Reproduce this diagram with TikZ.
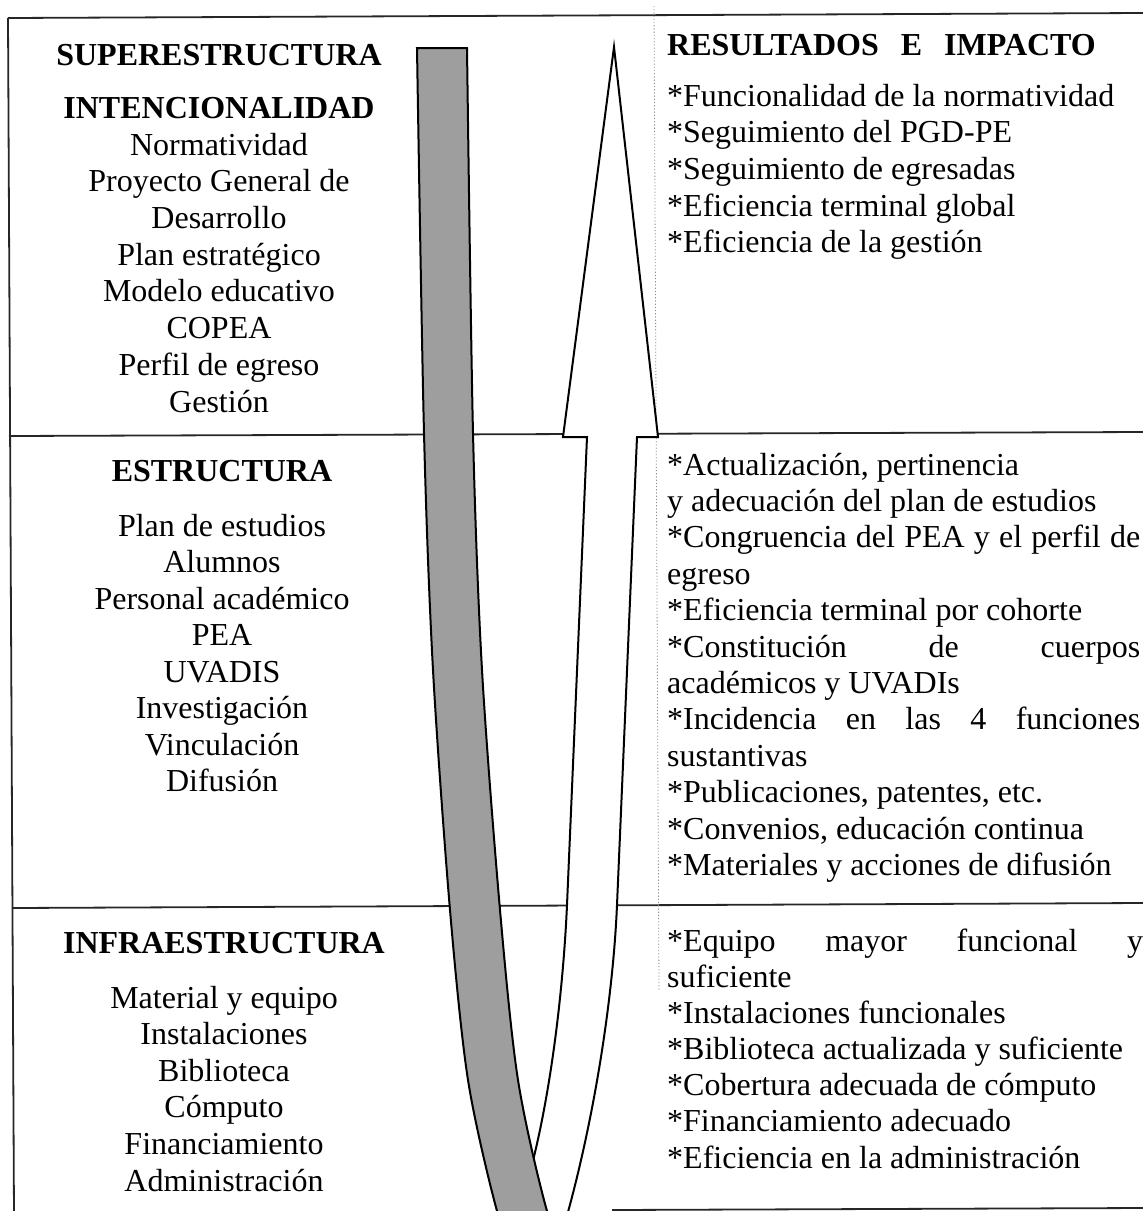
\documentclass[tikz,border=0pt]{standalone}
\usepackage{fontspec}
\setmainfont{Liberation Serif}
\newcommand\bodyfnt{\fontsize{32}{36.6}\selectfont}
\begin{document}
\begin{tikzpicture}[x=1pt,y=-1pt,
  frame/.style={line width=1.8pt, draw=black!85},
  dotline/.style={line width=0.8pt, draw=black!45, dash pattern=on 1.2pt off 2pt},
  outline/.style={line width=2pt, draw=black, fill=white},
  band/.style={line width=2pt, draw=black, fill=black!38},
  ctext/.style={anchor=base, inner sep=0pt, font=\bodyfnt},
  chead/.style={anchor=base, inner sep=0pt, font=\bodyfnt\bfseries},
  ltext/.style={anchor=base west, inner sep=0pt, font=\bodyfnt}]
\useasboundingbox (0,0) rectangle (1143,1211);
\begin{scope}
\clip (0,0) rectangle (1143,1211);
% frame and dividers
\draw[frame] (8,18) -- (1143,13);
\draw[frame] (8,18) -- (14,1215);
\draw[frame] (9,436) -- (1143,432);
\draw[frame] (12,908) -- (1143,903);
\draw[frame] (612,1210) -- (1143,1208);
\draw[dotline] (654,6) -- (659,990);
% white arm with arrow head
\draw[outline] (563,437) -- (614,47) -- (658,437) -- (637,437) -- (617,905)
  .. controls (613,1000) and (593,1130) .. (560,1240)
  .. controls (545,1290) and (520,1290) .. (515,1240)
  -- (525,1190) .. controls (549,1110) and (563,995) .. (567,905)
  -- (587,437) -- cycle;
% grey arm
\draw[band] plot[smooth] coordinates {(417,48) (424,433) (433,670) (450,910) (468,1080) (497,1211) (520,1270)}
  -- plot[smooth] coordinates {(572,1270) (547,1211) (518,1080) (500,910) (482,670) (473,433) (467,48)} -- cycle;
\end{scope}
% left column
\node[chead] (super) at (219,65) {SUPERESTRUCTURA};
\node[chead] (inten) at (219,118) {INTENCIONALIDAD};
\foreach \t/\y [count=\i] in {Normatividad/155, Proyecto General de/191.7, Desarrollo/228.4,
  Plan estratégico/265.1, Modelo educativo/301.8, COPEA/338.5, Perfil de egreso/375.2, Gestión/412}
  \node[ctext] (a\i) at (219,\y) {\t};
\node[chead] (estr) at (222,481) {ESTRUCTURA};
\foreach \t/\y [count=\i] in {Plan de estudios/536, Alumnos/572.5, Personal académico/609, PEA/645.5,
  UVADIS/682, Investigación/718.5, Vinculación/755, Difusión/791.5}
  \node[ctext] (b\i) at (222,\y) {\t};
\node[chead] (infra) at (224,953) {INFRAESTRUCTURA};
\foreach \t/\y [count=\i] in {Material y equipo/1008, Instalaciones/1044.6, Biblioteca/1081.2,
  Cómputo/1117.8, Financiamiento/1154.4, Administración/1191}
  \node[ctext] (c\i) at (224,\y) {\t};
% right column
\node[ltext, font=\bodyfnt\bfseries] (res) at (667,55) {RESULTADOS\hspace{22pt}E\hspace{22pt}IMPACTO};
\foreach \t/\y [count=\i] in {*Funcionalidad de la normatividad/106, *Seguimiento del PGD-PE/142.7,
  *Seguimiento de egresadas/179.4, *Eficiencia terminal global/216, *Eficiencia de la gestión/252.8}
  \node[ltext] (r\i) at (667,\y) {\t};
\node[ltext] (m1) at (667,475) {*Actualización, pertinencia};
\node[ltext] (m2) at (667,511.4) {y adecuación del plan de estudios};
\node[ltext] (m3) at (667,547.8) {\makebox[473pt][s]{*Congruencia del PEA y el perfil de}};
\node[ltext] (m4) at (667,584.2) {egreso};
\node[ltext] (m5) at (667,620.6) {*Eficiencia terminal por cohorte};
\node[ltext] (m6) at (667,657) {\makebox[473pt][s]{*Constitución\hfill de\hfill cuerpos}};
\node[ltext] (m7) at (667,693.4) {académicos y UVADIs};
\node[ltext] (m8) at (667,729.8) {\makebox[473pt][s]{*Incidencia\hfill en\hfill las\hfill 4\hfill funciones}};
\node[ltext] (m9) at (667,766.2) {sustantivas};
\node[ltext] (m10) at (667,802.6) {*Publicaciones, patentes, etc.};
\node[ltext] (m11) at (667,839) {*Convenios, educación continua};
\node[ltext] (m12) at (667,875.4) {*Materiales y acciones de difusión};
\node[ltext] (n1) at (667,951) {\makebox[476pt][s]{*Equipo\hfill mayor\hfill funcional\hfill y}};
\foreach \t/\y [count=\i from 2] in {suficiente/987.5, *Instalaciones funcionales/1023.5,
  *Biblioteca actualizada y suficiente/1059.5, *Cobertura adecuada de cómputo/1095.5,
  *Financiamiento adecuado/1131.8, *Eficiencia en la administración/1168.5}
  \node[ltext] (n\i) at (667,\y) {\t};
\end{tikzpicture}
\end{document}
